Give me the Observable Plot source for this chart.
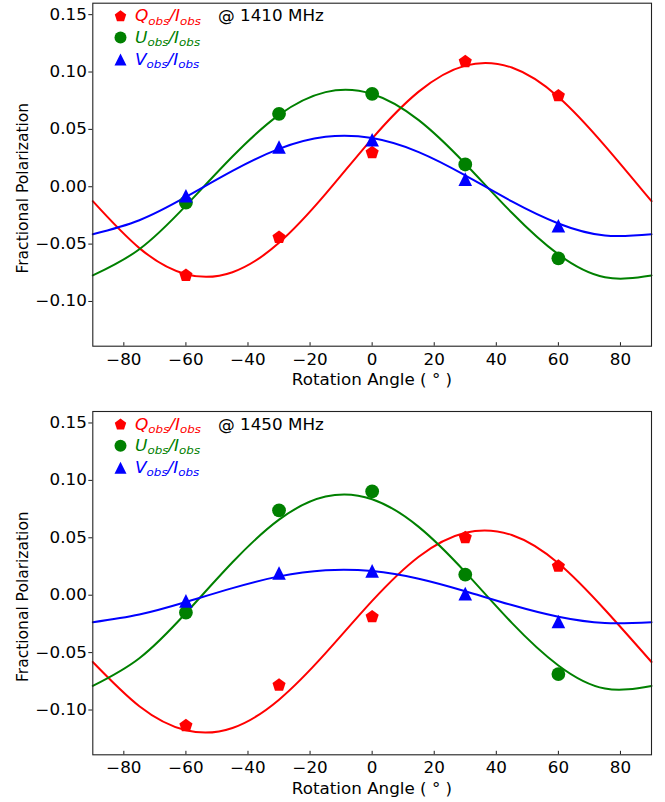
<!DOCTYPE html>
<html><head><meta charset="utf-8">
<script src="https://cdn.jsdelivr.net/npm/d3@7"></script>
<script src="https://cdn.jsdelivr.net/npm/@observablehq/plot@0.6"></script>
<style>
html,body{margin:0;padding:0;background:#fff;overflow:hidden;}
#wrap{position:relative;width:665px;height:802px;font-family:"DejaVu Sans",sans-serif;}
#wrap svg{position:absolute;left:0;}
</style></head><body><div id="wrap"></div>
<script>
// ---- observed points ----
const angles = [-60, -30, 0, 30, 60];
const q1410 = [-0.0772, -0.0442, 0.0298, 0.109, 0.0793];
const u1410 = [-0.0139, 0.0636, 0.081, 0.0194, -0.0624];
const v1410 = [-0.0078, 0.0347, 0.041, 0.0066, -0.034];
const q1450 = [-0.1136, -0.0783, -0.0188, 0.0501, 0.0252];
const u1450 = [-0.0151, 0.0739, 0.0904, 0.018, -0.0687];
const v1450 = [-0.0049, 0.0194, 0.0212, 0.0014, -0.0229];
// ---- fitted curves ----
const fitAngles = [-90, -75, -60, -45, -30, -15, 0, 15, 30, 45, 60, 75, 90];
const qFit1410 = [-0.0126,-0.0535,-0.0762,-0.0745,-0.0489,-0.0063,0.0420,0.0829,0.1056,0.1039,0.0783,0.0357,-0.0126];
const uFit1410 = [-0.0773,-0.0545,-0.0165,0.0263,0.0626,0.0825,0.0809,0.0581,0.0201,-0.0227,-0.0590,-0.0789,-0.0773];
const vFit1410 = [-0.0414,-0.0292,-0.0089,0.0138,0.0330,0.0435,0.0424,0.0302,0.0099,-0.0128,-0.0320,-0.0425,-0.0414];
const qFit1450 = [-0.0582,-0.0967,-0.1176,-0.1156,-0.0910,-0.0505,-0.0050,0.0335,0.0544,0.0524,0.0278,-0.0127,-0.0582];
const uFit1450 = [-0.0790,-0.0549,-0.0155,0.0287,0.0658,0.0859,0.0836,0.0595,0.0201,-0.0241,-0.0612,-0.0813,-0.0790];
const vFit1450 = [-0.0235,-0.0168,-0.0059,0.0062,0.0164,0.0218,0.0211,0.0144,0.0035,-0.0086,-0.0188,-0.0242,-0.0235];
// ---- axes ----
const xTicks = [-80, -60, -40, -20, 0, 20, 40, 60, 80];
const yTicks = [-0.10, -0.05, 0.00, 0.05, 0.10, 0.15];
const xDomain = [-90, 90];
const yDomain = [-0.139, 0.160];
const freqLabels = ["@ 1410 MHz", "@ 1450 MHz"];
const xLabel = "Rotation Angle ( \u00B0 )";
const yLabel = "Fractional Polarization";

const RED = "#ff0000", GREEN = "#008000", BLUE = "#0000ff";
const FONT = '"DejaVu Sans", sans-serif';
const STRETCH = 1.08;

const pentagon = {draw(ctx, size) {
  const r = Math.sqrt(size / Math.PI);
  for (let k = 0; k < 5; k++) {
    const a = -Math.PI / 2 + k * 2 * Math.PI / 5;
    const x = r * Math.cos(a), y = r * Math.sin(a);
    if (k) ctx.lineTo(x, y); else ctx.moveTo(x, y);
  }
  ctx.closePath();
}};
const triUp = {draw(ctx, size) {
  const r = Math.sqrt(size / Math.PI);
  ctx.moveTo(0, -r); ctx.lineTo(r, r); ctx.lineTo(-r, r); ctx.closePath();
}};

const ML = 92.3, MR = 14;
const legendOffsets = [13.1, 34.3, 56.3];

function panel(q, u, v, qf, uf, vf, freq, H, MT, MB) {
  const obs = angles.map((a, i) => ({a, q: q[i], u: u[i], v: v[i]}));
  const fit = fitAngles.map((a, i) => ({a, q: qf[i], u: uf[i], v: vf[i]}));
  const frameH = H - MT - MB;
  const fmt = d3.format(".2f");
  const legDot = (sym, color, off) => Plot.dot([0], {x: null, y: null, frameAnchor: "top-left", dx: 27.7, dy: off, symbol: sym, r: 6, fill: color, stroke: "none"});
  const svg = Plot.plot({
    width: 665, height: H,
    marginLeft: ML, marginRight: MR, marginTop: MT, marginBottom: MB,
    x: {domain: xDomain},
    y: {domain: yDomain},
    style: {fontFamily: FONT, fontSize: "15.5px", color: "#000", background: "transparent", overflow: "visible"},
    marks: [
      Plot.line(fit, {x: "a", y: "q", stroke: RED, strokeWidth: 2, curve: "natural"}),
      Plot.line(fit, {x: "a", y: "u", stroke: GREEN, strokeWidth: 2, curve: "natural"}),
      Plot.line(fit, {x: "a", y: "v", stroke: BLUE, strokeWidth: 2, curve: "natural"}),
      Plot.dot(obs, {x: "a", y: "q", symbol: pentagon, r: 6.9, fill: RED, stroke: "none"}),
      Plot.dot(obs, {x: "a", y: "u", symbol: "circle", r: 6.9, fill: GREEN, stroke: "none"}),
      Plot.dot(obs, {x: "a", y: "v", symbol: triUp, r: 6.8, fill: BLUE, stroke: "none"}),
      Plot.tickX(xTicks, {x: d => d, insetTop: frameH - 3.5, stroke: "#000", strokeWidth: 0.9}),
      Plot.axisX({ticks: xTicks, tickSize: 0, tickPadding: 7.6, tickFormat: d => d3.format("d")(d), fontSize: 15.5, label: null}),
      Plot.axisY({ticks: yTicks, tickSize: 4, tickPadding: 2, tickFormat: fmt, fontSize: 15.5, label: null, strokeWidth: 0.9}),
      Plot.frame({stroke: "#222", strokeWidth: 1.1}),
      legDot(pentagon, RED, legendOffsets[0]),
      legDot("circle", GREEN, legendOffsets[1]),
      legDot(triUp, BLUE, legendOffsets[2])
    ]
  });
  svg.querySelectorAll('g[aria-label$="tick label"] text').forEach(t => {
    t.setAttribute("transform", (t.getAttribute("transform") || "") + ` scale(${STRETCH},1)`);
  });
  const s = d3.select(svg);
  const g = s.append("g").attr("font-family", FONT).attr("text-anchor", "start");
  const names = [["Q", RED], ["U", GREEN], ["V", BLUE]];
  names.forEach(([n, c], i) => {
    const t = g.append("text").attr("text-anchor", "start")
      .attr("transform", `translate(135,${MT + legendOffsets[i] + 5.6}) scale(${STRETCH},1)`)
      .attr("fill", c).attr("font-size", 15.7).attr("font-style", "italic");
    t.append("tspan").text(n);
    t.append("tspan").attr("font-size", 11).attr("dy", 3.3).text("obs");
    t.append("tspan").attr("dy", -3.3).text("/I");
    t.append("tspan").attr("font-size", 11).attr("dy", 3.3).text("obs");
  });
  g.append("text").attr("text-anchor", "start")
    .attr("transform", `translate(218,${MT + legendOffsets[0] + 5.6}) scale(${STRETCH},1)`)
    .attr("fill", "#000").attr("font-size", 15.5).text(freq);
  g.append("text").attr("transform", `translate(372,${H - MB + 39.6}) scale(${STRETCH},1)`)
    .attr("text-anchor", "middle").attr("fill", "#000").attr("font-size", 15.5).text(xLabel);
  g.append("text").attr("transform", `translate(28.3,${MT + frameH / 2 + 14}) rotate(-90)`)
    .attr("text-anchor", "middle").attr("fill", "#000").attr("font-size", 15.5).text(yLabel);
  return svg;
}

const wrap = document.getElementById("wrap");
const p1 = panel(q1410, u1410, v1410, qFit1410, uFit1410, vFit1410, freqLabels[0], 400, 2.7, 54.3);
p1.style.top = "0px";
const p2 = panel(q1450, u1450, v1450, qFit1450, uFit1450, vFit1450, freqLabels[1], 402, 11, 47.7);
p2.style.top = "400px";
wrap.appendChild(p1);
wrap.appendChild(p2);
</script></body></html>
